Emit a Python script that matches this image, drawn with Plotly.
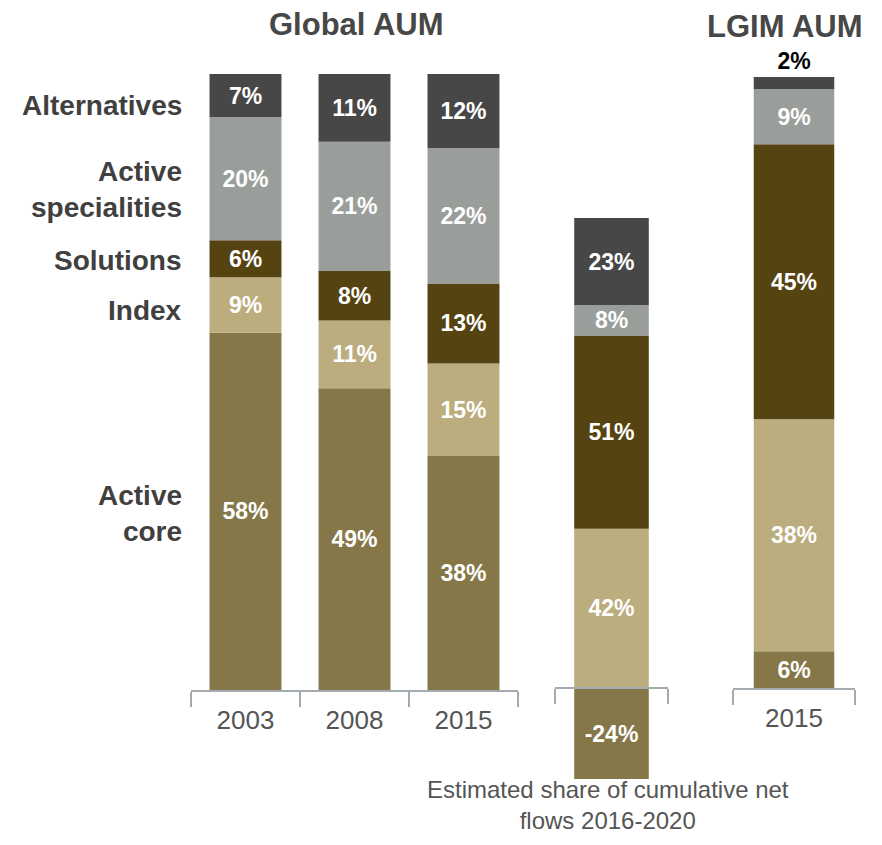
import plotly.graph_objects as go

# ---- data ----
segments = ["Active core", "Index", "Solutions", "Active specialities", "Alternatives"]
segment_labels = ["Active<br>core", "Index", "Solutions", "Active<br>specialities", "Alternatives"]
colors = ["#857748", "#BBAD7E", "#564312", "#9A9E9B", "#474747"]

global_years = ["2003", "2008", "2015"]
global_active_core = [58, 49, 38]
global_index = [9, 11, 15]
global_solutions = [6, 8, 13]
global_active_spec = [20, 21, 22]
global_alternatives = [7, 11, 12]

flows_cat = [""]
flows_active_core = [-24]
flows_index = [42]
flows_solutions = [51]
flows_active_spec = [8]
flows_alternatives = [23]

lgim_years = ["2015"]
lgim_active_core = [6]
lgim_index = [38]
lgim_solutions = [45]
lgim_active_spec = [9]
lgim_alternatives = [2]

flows_caption = ["Estimated share of cumulative net", "flows 2016-2020"]

# page body has an 8px margin: size figure to fill the window exactly
OFF = 8
W, H = 882 - 2 * OFF, 845 - 2 * OFF
def px(x): return (x - OFF) / W
def py(y): return 1 - (y - OFF) / H

global_series = [global_active_core, global_index, global_solutions, global_active_spec, global_alternatives]
flows_series = [flows_active_core, flows_index, flows_solutions, flows_active_spec, flows_alternatives]
lgim_series = [lgim_active_core, lgim_index, lgim_solutions, lgim_active_spec, lgim_alternatives]

FAM = "Liberation Sans, Arial, sans-serif"
BAR_SIZE = 23

fig = go.Figure()

def add_group(cats, series, xa, ya, top_outside=False):
    for i, (name, vals) in enumerate(zip(segments, series)):
        outside = top_outside and i == len(series) - 1
        fig.add_trace(go.Bar(
            x=cats, y=vals, name=name, xaxis=xa, yaxis=ya,
            marker=dict(color=colors[i], line=dict(width=0)),
            text=[f"{v}%" for v in vals],
            textposition="outside" if outside else "inside",
            insidetextanchor="middle",
            textfont=dict(family=FAM, size=BAR_SIZE, weight="bold",
                          color="black" if outside else "white"),
            constraintext="none",
            cliponaxis=False,
            showlegend=False,
            hoverinfo="skip",
        ))

add_group(global_years, global_series, "x", "y")
add_group(flows_cat, flows_series, "x2", "y2")
add_group(lgim_years, lgim_series, "x3", "y3", top_outside=True)

axis_color = "#A3AAB0"
tickfont = dict(family=FAM, size=26, color="#555555")

def xaxis_cfg(x0, x1, anchor, position=None):
    d = dict(domain=[px(x0), px(x1)], type="category", showline=True, linecolor=axis_color,
             linewidth=1.5, ticks="outside", tickson="boundaries", ticklen=15,
             tickcolor=axis_color, tickwidth=1.5, tickfont=tickfont, showgrid=False,
             ticklabelstandoff=6,
             zeroline=False, fixedrange=True)
    if position is not None:
        d["anchor"] = "free"
        d["position"] = position
    else:
        d["anchor"] = anchor
    return d

def yaxis_cfg(ybot, ytop, rng, anchor):
    return dict(domain=[py(ybot), py(ytop)], range=rng, visible=False, showgrid=False,
                zeroline=False, anchor=anchor, fixedrange=True)

fig.update_layout(
    width=W, height=H,
    margin=dict(l=0, r=0, t=0, b=0),
    paper_bgcolor="white", plot_bgcolor="white",
    barmode="relative",
    bargap=0.34,
    uniformtext=dict(minsize=BAR_SIZE, mode="show"),
    xaxis=xaxis_cfg(191, 518, "y"),
    yaxis=yaxis_cfg(690, 74, [0, 100], "x"),
    xaxis2=xaxis_cfg(555, 668, "y2", position=py(688)),
    yaxis2=yaxis_cfg(779, 218, [-24, 124], "x2"),
    xaxis3=xaxis_cfg(733, 855, "y3"),
    yaxis3=yaxis_cfg(688, 77, [0, 100], "x3"),
    font=dict(family=FAM),
)

title_font = dict(family=FAM, size=31, color="#474747")
label_font = dict(family=FAM, size=28, color="#404040")
caption_font = dict(family=FAM, size=24, color="#555555")

annotations = [
    dict(text="<b>Global AUM</b>", x=px(356), y=py(25), xref="paper", yref="paper",
         showarrow=False, font=title_font, xanchor="center", yanchor="middle"),
    dict(text="<b>LGIM AUM</b>", x=px(785), y=py(27), xref="paper", yref="paper",
         showarrow=False, font=title_font, xanchor="center", yanchor="middle"),
    dict(text="<br>".join(flows_caption), x=px(608), y=py(805),
         xref="paper", yref="paper", showarrow=False, font=caption_font, align="center",
         xanchor="center", yanchor="middle", borderpad=0),
]
label_y = [513, 310, 260, 190, 105]
for lab, yy in zip(segment_labels, label_y):
    annotations.append(dict(text=f"<b>{lab}</b>", x=px(184), y=py(yy), xref="paper", yref="paper",
                            showarrow=False, font=label_font, xanchor="right", yanchor="middle",
                            align="right"))
fig.update_layout(annotations=annotations)

fig.write_html("out.html")
